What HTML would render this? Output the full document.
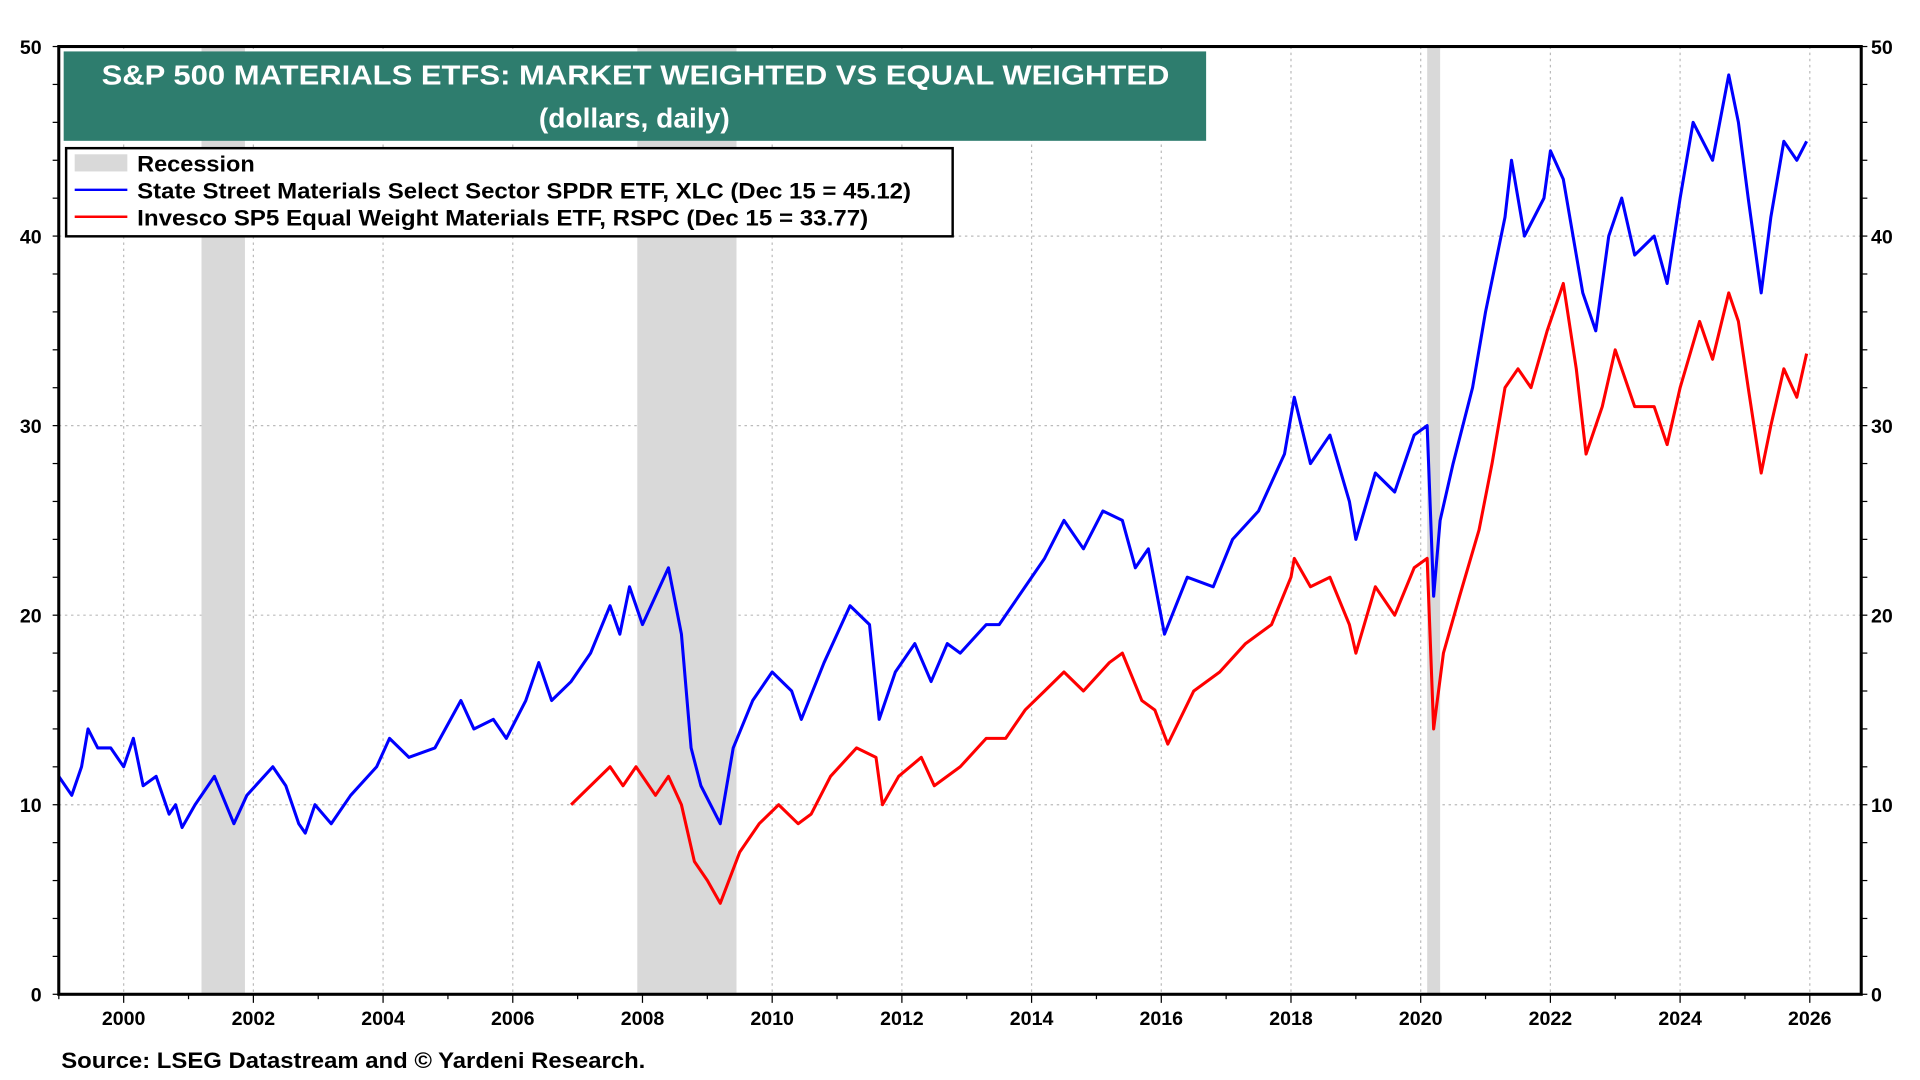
<!DOCTYPE html>
<html><head><meta charset="utf-8"><style>
html,body{margin:0;padding:0;background:#fff;}
svg{display:block;font-family:"Liberation Sans",Arial,sans-serif;}
</style></head><body>
<svg id="chart" width="1920" height="1080" viewBox="0 0 1568 882">
<g id="grid"></g>
<g id="rec"></g>
<g id="series"></g>
<rect x="48" y="38" width="1472" height="774" fill="none" stroke="#000" stroke-width="2.5"/>
<g id="axes"></g>
<rect x="52" y="42" width="933" height="73" fill="#2e7d6e"/>
<text x="83" y="69" textLength="872" lengthAdjust="spacingAndGlyphs" fill="#fff" font-weight="bold" font-size="23">S&amp;P 500 MATERIALS ETFS: MARKET WEIGHTED VS EQUAL WEIGHTED</text>
<text x="518" y="104" text-anchor="middle" fill="#fff" font-weight="bold" font-size="23">(dollars, daily)</text>
<g>
<rect x="54" y="121" width="724" height="72" fill="#fff" stroke="#000" stroke-width="2"/>
<rect x="61" y="126" width="43" height="14" fill="#d9d9d9"/>
<text x="112" y="140" font-size="18" font-weight="bold" textLength="96" lengthAdjust="spacingAndGlyphs">Recession</text>
<line x1="61" y1="155" x2="104" y2="155" stroke="#0000ff" stroke-width="2"/>
<text x="112" y="162" font-size="18" font-weight="bold" textLength="632" lengthAdjust="spacingAndGlyphs">State Street Materials Select Sector SPDR ETF, XLC (Dec 15 = 45.12)</text>
<line x1="61" y1="177" x2="104" y2="177" stroke="#ff0000" stroke-width="2"/>
<text x="112" y="184" font-size="18" font-weight="bold" textLength="597" lengthAdjust="spacingAndGlyphs">Invesco SP5 Equal Weight Materials ETF, RSPC (Dec 15 = 33.77)</text>
</g>
<text x="50" y="872" font-size="18" font-weight="bold" textLength="477" lengthAdjust="spacingAndGlyphs">Source: LSEG Datastream and © Yardeni Research.</text>
</svg>
<script>
const yTicks=[0,10,20,30,40,50];
const xTicks=[2000,2002,2004,2006,2008,2010,2012,2014,2016,2018,2020,2022,2024,2026];
const recStart=[2001.2,2007.92,2020.1];
const recEnd=[2001.87,2009.45,2020.3];
const xlbDates=[1999.0,1999.2,1999.35,1999.45,1999.6,1999.8,2000.0,2000.15,2000.3,2000.5,2000.7,2000.8,2000.9,2001.1,2001.4,2001.7,2001.9,2002.3,2002.5,2002.7,2002.8,2002.95,2003.2,2003.5,2003.9,2004.1,2004.4,2004.8,2005.2,2005.4,2005.7,2005.9,2006.2,2006.4,2006.6,2006.9,2007.2,2007.5,2007.65,2007.8,2008.0,2008.4,2008.6,2008.75,2008.9,2009.2,2009.4,2009.7,2010.0,2010.3,2010.45,2010.8,2011.2,2011.5,2011.65,2011.9,2012.2,2012.45,2012.7,2012.9,2013.3,2013.5,2013.9,2014.2,2014.5,2014.8,2015.1,2015.4,2015.6,2015.8,2016.05,2016.4,2016.8,2017.1,2017.5,2017.9,2018.05,2018.3,2018.6,2018.9,2019.0,2019.3,2019.6,2019.9,2020.1,2020.2,2020.3,2020.5,2020.8,2021.0,2021.3,2021.4,2021.6,2021.9,2022.0,2022.2,2022.5,2022.7,2022.9,2023.1,2023.3,2023.6,2023.8,2024.0,2024.2,2024.5,2024.75,2024.9,2025.05,2025.25,2025.4,2025.6,2025.8,2025.95];
const xlbValues=[11.5,10.5,12,14,13,13,12,13.5,11,11.5,9.5,10,8.8,10,11.5,9,10.5,12,11,9,8.5,10,9,10.5,12,13.5,12.5,13,15.5,14,14.5,13.5,15.5,17.5,15.5,16.5,18,20.5,19,21.5,19.5,22.5,19,13,11,9,13,15.5,17,16,14.5,17.5,20.5,19.5,14.5,17,18.5,16.5,18.5,18,19.5,19.5,21.5,23,25,23.5,25.5,25,22.5,23.5,19,22,21.5,24,25.5,28.5,31.5,28,29.5,26,24,27.5,26.5,29.5,30,21,25,28,32,36,41,44,40,42,44.5,43,37,35,40,42,39,40,37.5,42,46,44,48.5,46,42,37,41,45,44,45];
const rspcDates=[2006.9,2007.2,2007.5,2007.7,2007.9,2008.2,2008.4,2008.6,2008.8,2009.0,2009.2,2009.5,2009.8,2010.1,2010.4,2010.6,2010.9,2011.3,2011.6,2011.7,2011.95,2012.3,2012.5,2012.9,2013.3,2013.6,2013.9,2014.2,2014.5,2014.8,2015.2,2015.4,2015.7,2015.9,2016.1,2016.5,2016.9,2017.3,2017.7,2018.0,2018.05,2018.3,2018.6,2018.9,2019.0,2019.3,2019.6,2019.9,2020.1,2020.2,2020.35,2020.6,2020.9,2021.1,2021.3,2021.5,2021.7,2021.95,2022.2,2022.4,2022.55,2022.8,2023.0,2023.3,2023.6,2023.8,2024.0,2024.3,2024.5,2024.75,2024.9,2025.05,2025.25,2025.4,2025.6,2025.8,2025.95];
const rspcValues=[10,11,12,11,12,10.5,11.5,10,7,6,4.8,7.5,9,10,9,9.5,11.5,13,12.5,10,11.5,12.5,11,12,13.5,13.5,15,16,17,16,17.5,18,15.5,15,13.2,16,17,18.5,19.5,22,23,21.5,22,19.5,18,21.5,20,22.5,23,14,18,21,24.5,28,32,33,32,35,37.5,33,28.5,31,34,31,31,29,32,35.5,33.5,37,35.5,32,27.5,30,33,31.5,33.8];

const NS="http://www.w3.org/2000/svg";
const L=48,R=1520,T=38,B=812;
const xS=y=>101+(y-2000)*(1478-101)/26;
const yS=v=>B-(v/50)*(B-T);
function mk(tag,attrs,parent){const e=document.createElementNS(NS,tag);for(const k in attrs)e.setAttribute(k,attrs[k]);parent.appendChild(e);return e;}
const grid=document.getElementById('grid'),axes=document.getElementById('axes'),rec=document.getElementById('rec'),ser=document.getElementById('series');
yTicks.forEach(v=>{
  const y=yS(v);
  if(v>0&&v<50){const g=mk('line',{x1:L,x2:R,y1:y,y2:y,stroke:'#bbb','stroke-dasharray':'2,3','stroke-width':1},grid);
  
  }
  const t1=mk('text',{x:L-14,y:y+6,'text-anchor':'end','font-size':16,'font-weight':'bold'},axes);t1.textContent=v;
  
  
  const t2=mk('text',{x:R+8,y:y+6,'font-size':16,'font-weight':'bold'},axes);t2.textContent=v;
  
  
});
for(let v=0;v<=50;v+=2){const y=yS(v);mk('line',{x1:L-5,x2:L,y1:y,y2:y,stroke:'#000'},axes);mk('line',{x1:R,x2:R+5,y1:y,y2:y,stroke:'#000'},axes);}
for(let yr=1999;yr<=2027;yr++){const x=xS(yr);if(x<=R)mk('line',{x1:x,x2:x,y1:B,y2:B+(yr%2==0?7:4),stroke:'#000'},axes);}
xTicks.forEach(yr=>{
  const x=xS(yr);
  if(x<R){const g=mk('line',{x1:x,x2:x,y1:T,y2:B,stroke:'#bbb','stroke-dasharray':'2,3','stroke-width':1},grid);
  
  }
  const t=mk('text',{x:x,y:B+25,'text-anchor':'middle','font-size':16,'font-weight':'bold'},axes);t.textContent=yr;
  
  
});
recStart.forEach((s,i)=>{
  const r=mk('rect',{x:xS(s),y:T,width:xS(recEnd[i])-xS(s),height:B-T,fill:'#d9d9d9'},rec);
  
  
});
function line(d,v,c,name){
  const p=mk('polyline',{points:d.map((x,i)=>xS(x).toFixed(1)+','+yS(v[i]).toFixed(1)).join(' '),fill:'none',stroke:c,'stroke-width':2.5,'stroke-linejoin':'round'},ser);
  
  
}
line(rspcDates,rspcValues,'#ff0000','rspc-line');
line(xlbDates,xlbValues,'#0000ff','xlb-line');
</script>
</body></html>
